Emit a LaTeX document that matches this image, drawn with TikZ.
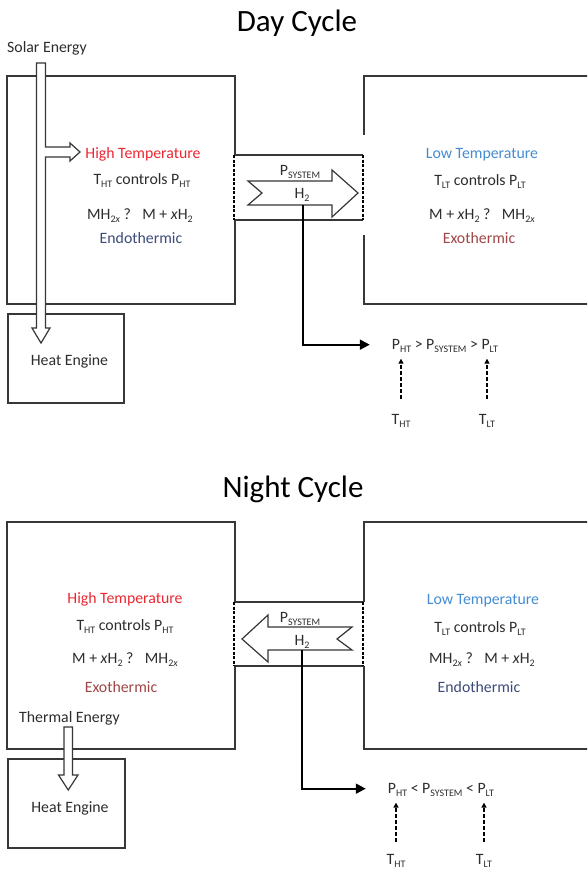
\documentclass[tikz,border=0pt]{standalone}
\usepackage{fontspec}
\setmainfont{Carlito}
\usetikzlibrary{arrows.meta}
\definecolor{txt}{RGB}{45,45,45}
\definecolor{htred}{RGB}{235,40,50}
\definecolor{ltblue}{RGB}{70,140,210}
\definecolor{exored}{RGB}{160,70,70}
\definecolor{endoblue}{RGB}{60,75,120}
\definecolor{edge}{RGB}{55,55,55}
\newcommand\sbs[1]{\raisebox{-0.45ex}{\fontsize{10}{10}\selectfont #1}}
\begin{document}
\begin{tikzpicture}[x=1pt,y=-1pt,
  lbl/.style={font=\fontsize{15.8}{18}\selectfont, text=txt, anchor=base, inner sep=0pt},
  ttl/.style={font=\fontsize{31}{36}\selectfont, text=black, anchor=base, inner sep=0pt},
  boxline/.style={draw=edge, line width=1.3pt},
  pipedash/.style={draw=black, line width=1.6pt, dash pattern=on 3pt off 1.5pt},
  fatarrow/.style={draw=edge, line width=1.2pt, fill=white, line join=miter},
  conn/.style={draw=black, line width=2pt, -{Triangle[length=10pt,width=10pt]}},
  dasharr/.style={draw=black, line width=1.8pt, dash pattern=on 4pt off 2pt, -{Triangle[length=5pt,width=5pt]}}]
\useasboundingbox (0,0) rectangle (587,872);
\clip (0,0) rectangle (587,872);
\fill[white] (0,0) rectangle (587,872);

% ================= DAY =================
\node[ttl] (daytitle) at (297,32) {Day Cycle};
\draw[boxline] (235,155) -- (235,76) -- (7,76) -- (7,304) -- (235,304) -- (235,220);
\draw[boxline] (600,76) -- (364,76) -- (364,135);
\draw[boxline] (364,235) -- (364,304) -- (600,304);
\draw[boxline] (235,155) -- (363,155);
\draw[boxline] (235,220) -- (363,220);
\draw[pipedash] (234,155) -- (234,220);
\draw[pipedash] (363,155) -- (363,220);
\draw[boxline] (8,314) rectangle (124,403);

\draw[fatarrow] (36.5,63) -- (45.5,63) -- (45.5,147) -- (70,147) -- (70,143) -- (80,152) -- (70,161) -- (70,157) -- (45.5,157) -- (45.5,328) -- (50,328) -- (41,343) -- (32,328) -- (36.5,328) -- cycle;
\draw[fatarrow] (248,181) -- (332,181) -- (332,170) -- (358,193) -- (332,217) -- (332,205) -- (248,205) -- (262,193) -- cycle;

\node[lbl, anchor=base west] (solar) at (7,53) {Solar Energy};
\node[lbl, text=htred] (dayhigh) at (143,158) {High Temperature};
\node[lbl] (dayhtctl) at (142,184) {T\sbs{HT} controls P\sbs{HT}};
\node[lbl] (dayhteq) at (140,219) {MH\sbs{2\textit{x}} ?\enspace\ M + \textit{x}H\sbs{2}};
\node[lbl, text=endoblue] (dayendo) at (141,243) {Endothermic};
\node[lbl] (daypsys) at (300,175) {P\sbs{SYSTEM}};
\node[lbl] (dayh2) at (302,198) {H\sbs{2}};
\node[lbl, text=ltblue] (daylow) at (482,158) {Low Temperature};
\node[lbl] (dayltctl) at (480,185) {T\sbs{LT} controls P\sbs{LT}};
\node[lbl] (daylteq) at (482,219) {M + \textit{x}H\sbs{2} ?\enspace\ MH\sbs{2\textit{x}}};
\node[lbl, text=exored] (dayexo) at (479,243) {Exothermic};
\node[lbl] (dayengine) at (69.5,365) {Heat Engine};
\node[lbl] (dayineq) at (445,349) {P\sbs{HT} > P\sbs{SYSTEM} > P\sbs{LT}};
\node[lbl] (daytht) at (401,424) {T\sbs{HT}};
\node[lbl] (daytlt) at (487,424) {T\sbs{LT}};

\coordinate (dayH2) at (303,205);
\draw[conn] (dayH2) |- ([xshift=-22pt,yshift=1pt]dayineq.west);
\draw[dasharr] ([yshift=15pt]daytht.north) -- ([yshift=-6pt]daytht.north |- dayineq.south);
\draw[dasharr] ([yshift=15pt]daytlt.north) -- ([yshift=-6pt]daytlt.north |- dayineq.south);

% ================= NIGHT =================
\node[ttl] (nighttitle) at (293,497) {Night Cycle};
\draw[boxline] (235,602) -- (235,522) -- (7,522) -- (7,749) -- (235,749) -- (235,666);
\draw[boxline] (600,522) -- (364,522) -- (364,602);
\draw[boxline] (364,666) -- (364,749) -- (600,749);
\draw[boxline] (235,602) -- (363,602);
\draw[boxline] (235,666) -- (363,666);
\draw[pipedash] (234,602) -- (234,666);
\draw[pipedash] (363,602) -- (363,666);
\draw[boxline] (8,759) rectangle (125,848);

\draw[fatarrow] (64,727) -- (72.5,727) -- (72.5,775) -- (78,775) -- (68.25,790) -- (58.5,775) -- (64,775) -- cycle;
\draw[fatarrow] (242,639) -- (268,615) -- (268,627) -- (352,627) -- (337,639) -- (352,650) -- (268,650) -- (268,662) -- cycle;

\node[lbl, text=htred] (nighthigh) at (125,603) {High Temperature};
\node[lbl] (nighthtctl) at (125,630) {T\sbs{HT} controls P\sbs{HT}};
\node[lbl] (nighthteq) at (125,663) {M + \textit{x}H\sbs{2} ?\enspace\ MH\sbs{2\textit{x}}};
\node[lbl, text=exored] (nightexo) at (121,692) {Exothermic};
\node[lbl, anchor=base west] (thermal) at (19,722) {Thermal Energy};
\node[lbl] (nightpsys) at (300,622) {P\sbs{SYSTEM}};
\node[lbl] (nighth2) at (302,645) {H\sbs{2}};
\node[lbl, text=ltblue] (nightlow) at (483,604) {Low Temperature};
\node[lbl] (nightltctl) at (480,632) {T\sbs{LT} controls P\sbs{LT}};
\node[lbl] (nightlteq) at (482,663) {MH\sbs{2\textit{x}} ?\enspace\ M + \textit{x}H\sbs{2}};
\node[lbl, text=endoblue] (nightendo) at (479,692) {Endothermic};
\node[lbl] (nightengine) at (70,812) {Heat Engine};
\node[lbl] (nightineq) at (441,793) {P\sbs{HT} < P\sbs{SYSTEM} < P\sbs{LT}};
\node[lbl] (nighttht) at (396,864.5) {T\sbs{HT}};
\node[lbl] (nighttlt) at (484,864.5) {T\sbs{LT}};

\coordinate (nightH2) at (302,650);
\draw[conn] (nightH2) |- ([xshift=-22pt,yshift=1pt]nightineq.west);
\draw[dasharr] ([yshift=12pt]nighttht.north) -- ([yshift=-6pt]nighttht.north |- nightineq.south);
\draw[dasharr] ([yshift=12pt]nighttlt.north) -- ([yshift=-6pt]nighttlt.north |- nightineq.south);
\end{tikzpicture}
\end{document}
